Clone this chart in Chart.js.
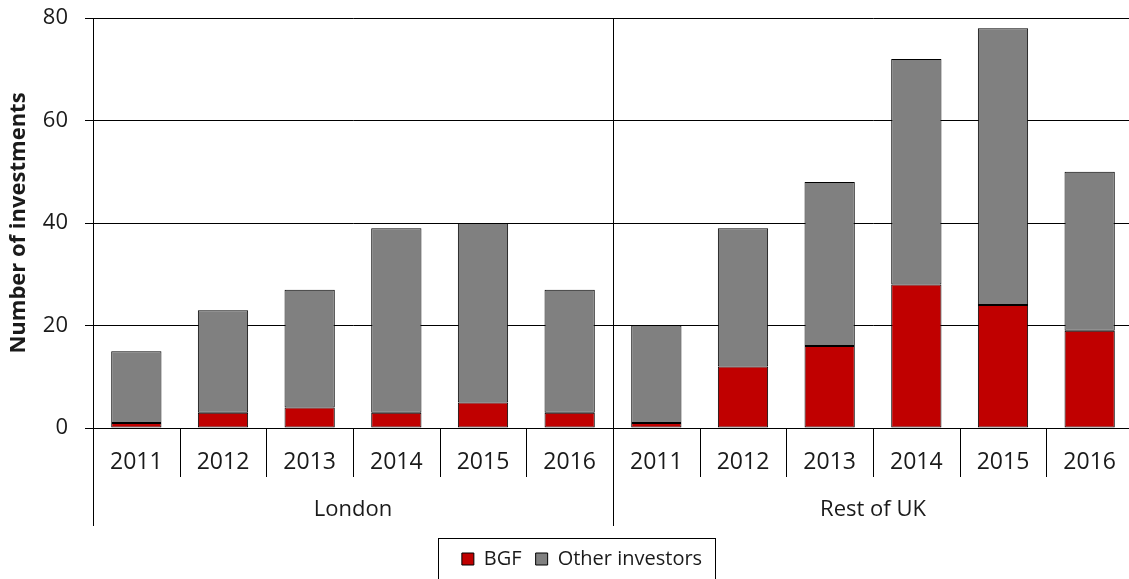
<!DOCTYPE html>
<html><head><meta charset="utf-8">
<script src="https://cdn.jsdelivr.net/npm/chart.js@4/dist/chart.umd.min.js"></script>
<style>html,body{margin:0;padding:0;background:#fff;overflow:hidden}
#wrap{width:1192px;height:579px;position:relative}</style>
</head><body><div id="wrap"><canvas id="c"></canvas></div>
<script>
const years = ['2011','2012','2013','2014','2015','2016','2011','2012','2013','2014','2015','2016'];
const groups = ['London','Rest of UK'];
const groupSize = 6;
const bgf = [1,3,4,3,5,3, 1,12,16,28,24,19];
const otherInvestors = [14,20,23,36,35,24, 19,27,32,44,54,31];
const yMin = 0, yMax = 80, yStep = 20;

const FONT = "'Open Sans', 'Noto Sans', sans-serif";
const TXT = '#1a1a1a';

const decor = {
  id: 'decor',
  afterDraw(chart) {
    const ctx = chart.ctx, xs = chart.scales.x, a = chart.chartArea;
    const n = years.length, w = xs.width / n;
    ctx.save();
    ctx.strokeStyle = '#000'; ctx.lineWidth = 1;
    for (let i = 0; i <= n; i++) {
      const px = Math.round(xs.left + i * w) + 0.5;
      ctx.beginPath();
      if (i % groupSize === 0) {
        ctx.moveTo(px, i === 0 ? a.bottom : a.top);
        ctx.lineTo(px, a.bottom + 98);
      } else {
        ctx.moveTo(px, a.bottom);
        ctx.lineTo(px, a.bottom + 49);
      }
      ctx.stroke();
    }
    ctx.fillStyle = TXT;
    ctx.font = '22px ' + FONT;
    ctx.textAlign = 'center'; ctx.textBaseline = 'middle';
    groups.forEach((g, k) => {
      const cx = xs.left + (k * groupSize + groupSize / 2) * w;
      ctx.fillText(g, cx, a.bottom + 82);
    });
    // legend border
    const lg = chart.legend;
    if (lg && lg.legendHitBoxes && lg.legendHitBoxes.length) {
      const hb = lg.legendHitBoxes;
      const l = hb[0].left - 24, r = hb[hb.length - 1].left + hb[hb.length - 1].width + 13;
      const t = hb[0].top - 11;
      ctx.strokeRect(Math.round(l) + 0.5, Math.round(t) + 0.5, Math.round(r - l), 60);
    }
    ctx.restore();
  }
};

new Chart(document.getElementById('c'), {
  type: 'bar',
  data: {
    labels: years,
    datasets: [
      { label: 'BGF', data: bgf, backgroundColor: '#C00000', borderColor: '#000', borderWidth: 1, borderSkipped: false },
      { label: 'Other investors', data: otherInvestors, backgroundColor: '#808080', borderColor: '#000', borderWidth: 1, borderSkipped: false }
    ]
  },
  options: {
    responsive: true, maintainAspectRatio: false, animation: false,
    layout: { padding: { left: 31, right: 59, top: 18, bottom: 0 } },
    datasets: { bar: { categoryPercentage: 1, barPercentage: 0.58 } },
    plugins: {
      tooltip: { enabled: false },
      legend: {
        position: 'bottom',
        labels: { color: TXT, font: { family: FONT, size: 20 }, boxWidth: 12, boxHeight: 12, padding: 14 }
      }
    },
    scales: {
      x: {
        stacked: true, offset: true,
        grid: { display: false, drawTicks: false },
        border: { display: false },
        ticks: { color: TXT, font: { family: FONT, size: 23 }, padding: 21, maxRotation: 0, autoSkip: false },
        afterFit(s) { s.height = 107; s.paddingLeft = 0; s.paddingRight = 0; }
      },
      y: {
        stacked: true, min: yMin, max: yMax,
        ticks: { stepSize: yStep, color: TXT, font: { family: FONT, size: 22 }, padding: 17 },
        grid: { color: '#000', lineWidth: 1, tickLength: 8, drawTicks: true },
        border: { display: true, color: '#000' },
        title: { display: true, text: 'Number of investments', color: TXT, font: { family: FONT, size: 22, weight: 'bold' }, padding: { top: -25, bottom: 0 } },
        afterFit(s) { s.width = 62; s.paddingTop = 0; s.paddingBottom = 0; }
      }
    }
  },
  plugins: [decor]
});
</script></body></html>
